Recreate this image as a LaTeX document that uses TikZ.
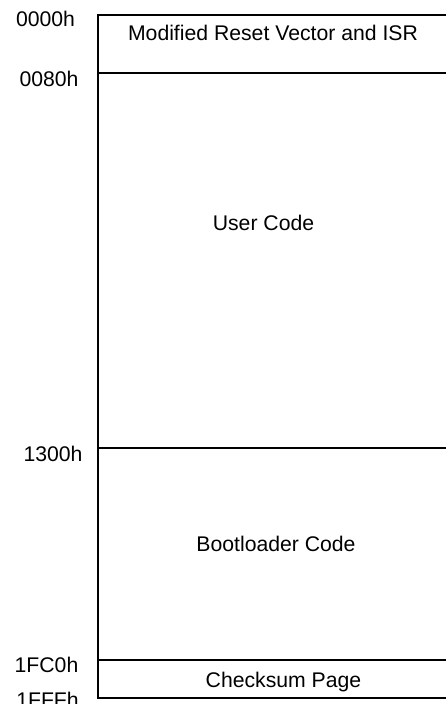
\documentclass[tikz,border=0pt]{standalone}
\usepackage{fontspec}
\setmainfont{Liberation Sans}
\begin{document}
\begin{tikzpicture}[x=1pt,y=-1pt,
  txt/.style={font=\fontsize{21.2}{25}\selectfont, anchor=base, inner sep=0pt},
  wall/.style={line width=1.6pt, line cap=rect}]
\useasboundingbox (0,0) rectangle (446,704);
% outline of the memory map
\coordinate (tl) at (98,15);
\coordinate (bl) at (98,698);
\draw[wall] (450,15) -- (tl) -- (bl) -- (450,698);
\draw[wall] (98,73) -- (450,73);
\draw[wall] (98,448) -- (450,448);
\draw[wall] (98,660) -- (450,660);
% region texts
\node[txt] (isr) at (273,40.7) {Modified Reset Vector and ISR};
\node[txt] (user) at (263.5,230) {User Code};
\node[txt] (boot) at (276,551) {Bootloader Code};
\node[txt] (chk) at (283.5,687) {Checksum Page};
% addresses
\node[txt] (a0) at (45.5,26) {0000h};
\node[txt] (a1) at (49,86) {0080h};
\node[txt] (a2) at (53,461.5) {1300h};
\node[txt] (a3) at (46.5,672) {1FC0h};
\node[txt] (a4) at (47.5,707) {1FFFh};
\end{tikzpicture}
\end{document}
